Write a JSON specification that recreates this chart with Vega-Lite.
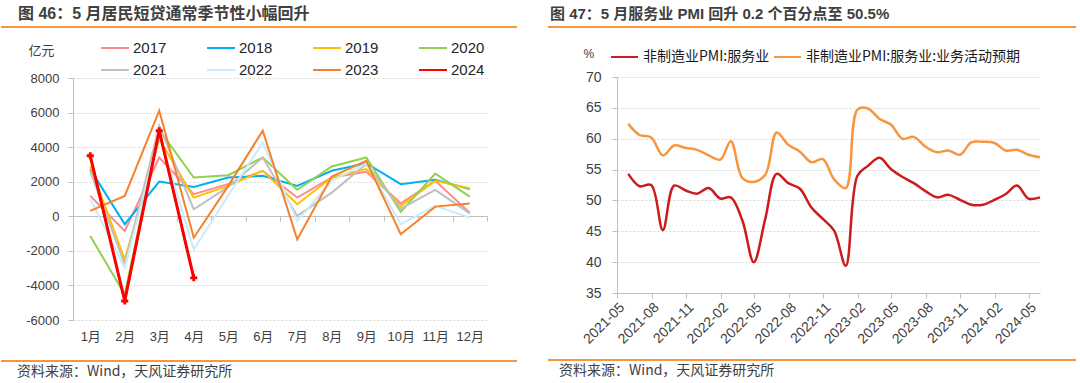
{
  "$schema": "https://vega.github.io/schema/vega-lite/v6.json",
  "padding": {"left": 0, "top": 6, "right": 0, "bottom": 0},
  "background": "white",
  "config": {
    "view": {"stroke": null},
    "font": "Noto Sans CJK SC"
  },
  "spacing": 29,
  "resolve": {"scale": {"x": "independent", "y": "independent", "color": "independent"}, "axis": {"x": "independent", "y": "independent"}, "legend": {"color": "independent"}},
  "hconcat": [
    {
      "spacing": 10,
      "resolve": {"scale": {"x": "independent", "y": "independent", "color": "independent"}, "axis": {"x": "independent", "y": "independent"}, "legend": {"color": "independent"}},
      "vconcat": [
        {
          "width": 516, "height": 2,
          "data": {"values": [{"s": 0, "e": 1}]},
          "title": {"text": "图 46：5 月居民短贷通常季节性小幅回升", "anchor": "start", "fontSize": 16, "fontWeight": "bold", "color": "#404040", "offset": 4, "dx": 18, "font": "Liberation Sans, Noto Sans CJK SC"},
          "mark": {"type": "rule", "color": "#F7963C", "strokeWidth": 2},
          "encoding": {
            "x": {"field": "s", "type": "quantitative", "scale": {"domain": [0, 1]}, "axis": null},
            "x2": {"field": "e"}
          }
        },
        {
          "spacing": 17,
          "resolve": {"scale": {"x": "independent", "y": "independent", "color": "independent"}, "axis": {"x": "independent", "y": "independent"}, "legend": {"color": "independent"}},
          "vconcat": [
            {
              "spacing": 23,
              "resolve": {"scale": {"x": "independent", "y": "independent", "color": "independent"}, "axis": {"x": "independent", "y": "independent"}, "legend": {"color": "independent"}},
              "hconcat": [
                {"width": 1, "height": 1, "data": {"values": [{}]}, "mark": "rule", "encoding": {}},
                {
                  "width": 414, "height": 242,
                  "data": {"values": [
                    {"m":"1月","y":"2017","v":1180},{"m":"2月","y":"2017","v":-850},{"m":"3月","y":"2017","v":3400},{"m":"4月","y":"2017","v":1280},{"m":"5月","y":"2017","v":1860},{"m":"6月","y":"2017","v":2630},{"m":"7月","y":"2017","v":1080},{"m":"8月","y":"2017","v":2240},{"m":"9月","y":"2017","v":2570},{"m":"10月","y":"2017","v":750},{"m":"11月","y":"2017","v":2050},{"m":"12月","y":"2017","v":210},
                    {"m":"1月","y":"2018","v":2730},{"m":"2月","y":"2018","v":-460},{"m":"3月","y":"2018","v":2010},{"m":"4月","y":"2018","v":1700},{"m":"5月","y":"2018","v":2240},{"m":"6月","y":"2018","v":2340},{"m":"7月","y":"2018","v":1760},{"m":"8月","y":"2018","v":2630},{"m":"9月","y":"2018","v":3070},{"m":"10月","y":"2018","v":1860},{"m":"11月","y":"2018","v":2110},{"m":"12月","y":"2018","v":1570},
                    {"m":"1月","y":"2019","v":2900},{"m":"2月","y":"2019","v":-2500},{"m":"3月","y":"2019","v":4470},{"m":"4月","y":"2019","v":1080},{"m":"5月","y":"2019","v":1760},{"m":"6月","y":"2019","v":2630},{"m":"7月","y":"2019","v":700},{"m":"8月","y":"2019","v":2240},{"m":"9月","y":"2019","v":2730},{"m":"10月","y":"2019","v":600},{"m":"11月","y":"2019","v":2050},{"m":"12月","y":"2019","v":1620},
                    {"m":"1月","y":"2020","v":-1140},{"m":"2月","y":"2020","v":-4520},{"m":"3月","y":"2020","v":5000},{"m":"4月","y":"2020","v":2240},{"m":"5月","y":"2020","v":2380},{"m":"6月","y":"2020","v":3400},{"m":"7月","y":"2020","v":1530},{"m":"8月","y":"2020","v":2880},{"m":"9月","y":"2020","v":3400},{"m":"10月","y":"2020","v":250},{"m":"11月","y":"2020","v":2470},{"m":"12月","y":"2020","v":1140},
                    {"m":"1月","y":"2021","v":2600},{"m":"2月","y":"2021","v":-2780},{"m":"3月","y":"2021","v":5240},{"m":"4月","y":"2021","v":400},{"m":"5月","y":"2021","v":1700},{"m":"6月","y":"2021","v":3400},{"m":"7月","y":"2021","v":20},{"m":"8月","y":"2021","v":1370},{"m":"9月","y":"2021","v":3020},{"m":"10月","y":"2021","v":440},{"m":"11月","y":"2021","v":1530},{"m":"12月","y":"2021","v":170},
                    {"m":"1月","y":"2022","v":990},{"m":"2月","y":"2022","v":-2980},{"m":"3月","y":"2022","v":4700},{"m":"4月","y":"2022","v":-1910},{"m":"5月","y":"2022","v":1200},{"m":"6月","y":"2022","v":4270},{"m":"7月","y":"2022","v":-270},{"m":"8月","y":"2022","v":2050},{"m":"9月","y":"2022","v":3070},{"m":"10月","y":"2022","v":-460},{"m":"11月","y":"2022","v":600},{"m":"12月","y":"2022","v":-80},
                    {"m":"1月","y":"2023","v":310},{"m":"2月","y":"2023","v":1180},{"m":"3月","y":"2023","v":6110},{"m":"4月","y":"2023","v":-1240},{"m":"5月","y":"2023","v":1760},{"m":"6月","y":"2023","v":4950},{"m":"7月","y":"2023","v":-1340},{"m":"8月","y":"2023","v":2300},{"m":"9月","y":"2023","v":3210},{"m":"10月","y":"2023","v":-1040},{"m":"11月","y":"2023","v":560},{"m":"12月","y":"2023","v":735},
                    {"m":"1月","y":"2024","v":3500},{"m":"2月","y":"2024","v":-4900},{"m":"3月","y":"2024","v":4950},{"m":"4月","y":"2024","v":-3560}
                  ]},
                  "encoding": {
                    "x": {"field": "m", "type": "ordinal",
                      "sort": ["1月","2月","3月","4月","5月","6月","7月","8月","9月","10月","11月","12月"],
                      "scale": {"domain": ["1月","2月","3月","4月","5月","6月","7月","8月","9月","10月","11月","12月"], "paddingInner": 0, "paddingOuter": 0},
                      "axis": {"title": null, "labelAngle": 0, "offset": -104, "tickBand": "extent", "domainColor": "#BFBFBF", "tickColor": "#BFBFBF", "tickSize": 5, "labelPadding": 109, "labelFontSize": 13, "labelColor": "#404040", "labelFont": "Liberation Sans, Noto Sans CJK SC", "grid": false}},
                    "y": {"field": "v", "type": "quantitative",
                      "scale": {"domain": [-6000, 8000], "nice": false},
                      "axis": {"title": "亿元", "titleAngle": 0, "titleX": -45, "titleY": -28, "titleAlign": "left", "titleBaseline": "middle", "titleFontSize": 13, "titleFontWeight": "normal", "titleColor": "#404040", "titleFont": "Noto Sans CJK SC",
                        "values": [-6000, -4000, -2000, 0, 2000, 4000, 6000, 8000], "labelExpr": "toString(datum.value)",
                        "labelFontSize": 13, "labelColor": "#404040", "labelFont": "Liberation Sans", "labelPadding": 9, "tickSize": 5, "tickColor": "#BFBFBF", "domainColor": "#BFBFBF",
                        "grid": true, "gridDash": [2, 2], "gridColor": "#D9D9D9"}}
                  },
                  "layer": [
                    {
                      "mark": {"type": "line", "strokeWidth": 2},
                      "encoding": {
                        "color": {"field": "y", "type": "nominal",
                          "scale": {"domain": ["2017","2018","2019","2020","2021","2022","2023","2024"], "range": ["#FF8C8C","#00B0F0","#FFC000","#92D050","#BFBFBF","#C9EBFA","#F5822A","#FF0000"]},
                          "legend": {"orient": "none", "legendX": 27, "legendY": -40, "columns": 4, "direction": "horizontal", "title": null, "symbolType": "stroke", "symbolSize": 784, "symbolStrokeWidth": 2, "labelFontSize": 15, "labelColor": "#262626", "labelFont": "Liberation Sans", "labelOffset": 3, "columnPadding": 39, "rowPadding": 2, "clipHeight": 20}}
                      }
                    },
                    {
                      "transform": [{"filter": "datum.y == '2024'"}],
                      "mark": {"type": "line", "strokeWidth": 3, "color": "#FF0000"},
                      "encoding": {}
                    },
                    {
                      "transform": [{"filter": "datum.y == '2024'"}],
                      "mark": {"type": "point", "shape": "cross", "filled": true, "size": 50, "color": "#FF0000", "opacity": 1},
                      "encoding": {}
                    }
                  ]
                }
              ]
            },
            {
              "width": 516, "height": 2,
              "data": {"values": [{"s": 0, "e": 1}]},
              "title": {"text": "资料来源：Wind，天风证券研究所", "orient": "bottom", "anchor": "start", "fontSize": 14, "fontWeight": "normal", "color": "#404040", "offset": 3, "dx": 17, "font": "Noto Sans CJK SC"},
              "mark": {"type": "rule", "color": "#F7963C", "strokeWidth": 2},
              "encoding": {
                "x": {"field": "s", "type": "quantitative", "scale": {"domain": [0, 1]}, "axis": null},
                "x2": {"field": "e"}
              }
            }
          ]
        }
      ]
    },
    {
      "spacing": 19,
      "resolve": {"scale": {"x": "independent", "y": "independent", "color": "independent"}, "axis": {"x": "independent", "y": "independent"}, "legend": {"color": "independent"}},
      "vconcat": [
        {
          "width": 528, "height": 2,
          "data": {"values": [{"s": 0, "e": 1}]},
          "title": {"text": "图 47：5 月服务业 PMI 回升 0.2 个百分点至 50.5%", "anchor": "start", "fontSize": 15, "fontWeight": "bold", "color": "#404040", "offset": 4, "dx": 3, "font": "Liberation Sans, Noto Sans CJK SC"},
          "mark": {"type": "rule", "color": "#F7963C", "strokeWidth": 2},
          "encoding": {
            "x": {"field": "s", "type": "quantitative", "scale": {"domain": [0, 1]}, "axis": null},
            "x2": {"field": "e"}
          }
        },
        {
          "spacing": 12,
          "resolve": {"scale": {"x": "independent", "y": "independent", "color": "independent"}, "axis": {"x": "independent", "y": "independent"}, "legend": {"color": "independent"}},
          "vconcat": [
            {
              "spacing": 31,
              "resolve": {"scale": {"x": "independent", "y": "independent", "color": "independent"}, "axis": {"x": "independent", "y": "independent"}, "legend": {"color": "independent"}},
              "hconcat": [
                {"width": 1, "height": 1, "data": {"values": [{}]}, "mark": "rule", "encoding": {}},
                {
                  "width": 423, "height": 216,
                  "data": {"values": [
                    {"d":"2021-05-31","s":"非制造业PMI:服务业","v":54.3},{"d":"2021-06-30","s":"非制造业PMI:服务业","v":52.3},{"d":"2021-07-31","s":"非制造业PMI:服务业","v":52.5},{"d":"2021-08-31","s":"非制造业PMI:服务业","v":45.2},{"d":"2021-09-30","s":"非制造业PMI:服务业","v":52.4},{"d":"2021-10-31","s":"非制造业PMI:服务业","v":51.6},{"d":"2021-11-30","s":"非制造业PMI:服务业","v":51.1},{"d":"2021-12-31","s":"非制造业PMI:服务业","v":52.0},{"d":"2022-01-31","s":"非制造业PMI:服务业","v":50.3},{"d":"2022-02-28","s":"非制造业PMI:服务业","v":50.5},{"d":"2022-03-31","s":"非制造业PMI:服务业","v":46.7},{"d":"2022-04-30","s":"非制造业PMI:服务业","v":40.0},{"d":"2022-05-31","s":"非制造业PMI:服务业","v":47.1},{"d":"2022-06-30","s":"非制造业PMI:服务业","v":54.3},{"d":"2022-07-31","s":"非制造业PMI:服务业","v":52.8},{"d":"2022-08-31","s":"非制造业PMI:服务业","v":51.9},{"d":"2022-09-30","s":"非制造业PMI:服务业","v":48.9},{"d":"2022-10-31","s":"非制造业PMI:服务业","v":47.0},{"d":"2022-11-30","s":"非制造业PMI:服务业","v":45.1},{"d":"2022-12-31","s":"非制造业PMI:服务业","v":39.4},{"d":"2023-01-31","s":"非制造业PMI:服务业","v":54.0},{"d":"2023-02-28","s":"非制造业PMI:服务业","v":55.6},{"d":"2023-03-31","s":"非制造业PMI:服务业","v":56.9},{"d":"2023-04-30","s":"非制造业PMI:服务业","v":55.1},{"d":"2023-05-31","s":"非制造业PMI:服务业","v":53.8},{"d":"2023-06-30","s":"非制造业PMI:服务业","v":52.8},{"d":"2023-07-31","s":"非制造业PMI:服务业","v":51.5},{"d":"2023-08-31","s":"非制造业PMI:服务业","v":50.5},{"d":"2023-09-30","s":"非制造业PMI:服务业","v":50.9},{"d":"2023-10-31","s":"非制造业PMI:服务业","v":50.1},{"d":"2023-11-30","s":"非制造业PMI:服务业","v":49.3},{"d":"2023-12-31","s":"非制造业PMI:服务业","v":49.3},{"d":"2024-01-31","s":"非制造业PMI:服务业","v":50.1},{"d":"2024-02-29","s":"非制造业PMI:服务业","v":51.0},{"d":"2024-03-31","s":"非制造业PMI:服务业","v":52.4},{"d":"2024-04-30","s":"非制造业PMI:服务业","v":50.3},{"d":"2024-05-31","s":"非制造业PMI:服务业","v":50.5},
                    {"d":"2021-05-31","s":"非制造业PMI:服务业:业务活动预期","v":62.4},{"d":"2021-06-30","s":"非制造业PMI:服务业:业务活动预期","v":60.6},{"d":"2021-07-31","s":"非制造业PMI:服务业:业务活动预期","v":60.2},{"d":"2021-08-31","s":"非制造业PMI:服务业:业务活动预期","v":57.3},{"d":"2021-09-30","s":"非制造业PMI:服务业:业务活动预期","v":58.9},{"d":"2021-10-31","s":"非制造业PMI:服务业:业务活动预期","v":58.5},{"d":"2021-11-30","s":"非制造业PMI:服务业:业务活动预期","v":58.2},{"d":"2021-12-31","s":"非制造业PMI:服务业:业务活动预期","v":57.3},{"d":"2022-01-31","s":"非制造业PMI:服务业:业务活动预期","v":56.6},{"d":"2022-02-28","s":"非制造业PMI:服务业:业务活动预期","v":59.6},{"d":"2022-03-31","s":"非制造业PMI:服务业:业务活动预期","v":53.6},{"d":"2022-04-30","s":"非制造业PMI:服务业:业务活动预期","v":53.0},{"d":"2022-05-31","s":"非制造业PMI:服务业:业务活动预期","v":54.2},{"d":"2022-06-30","s":"非制造业PMI:服务业:业务活动预期","v":61.0},{"d":"2022-07-31","s":"非制造业PMI:服务业:业务活动预期","v":59.0},{"d":"2022-08-31","s":"非制造业PMI:服务业:业务活动预期","v":57.9},{"d":"2022-09-30","s":"非制造业PMI:服务业:业务活动预期","v":56.2},{"d":"2022-10-31","s":"非制造业PMI:服务业:业务活动预期","v":56.7},{"d":"2022-11-30","s":"非制造业PMI:服务业:业务活动预期","v":53.4},{"d":"2022-12-31","s":"非制造业PMI:服务业:业务活动预期","v":52.0},{"d":"2023-01-31","s":"非制造业PMI:服务业:业务活动预期","v":64.7},{"d":"2023-02-28","s":"非制造业PMI:服务业:业务活动预期","v":64.9},{"d":"2023-03-31","s":"非制造业PMI:服务业:业务活动预期","v":63.2},{"d":"2023-04-30","s":"非制造业PMI:服务业:业务活动预期","v":62.3},{"d":"2023-05-31","s":"非制造业PMI:服务业:业务活动预期","v":60.0},{"d":"2023-06-30","s":"非制造业PMI:服务业:业务活动预期","v":60.3},{"d":"2023-07-31","s":"非制造业PMI:服务业:业务活动预期","v":58.7},{"d":"2023-08-31","s":"非制造业PMI:服务业:业务活动预期","v":57.8},{"d":"2023-09-30","s":"非制造业PMI:服务业:业务活动预期","v":58.1},{"d":"2023-10-31","s":"非制造业PMI:服务业:业务活动预期","v":57.4},{"d":"2023-11-30","s":"非制造业PMI:服务业:业务活动预期","v":59.4},{"d":"2023-12-31","s":"非制造业PMI:服务业:业务活动预期","v":59.5},{"d":"2024-01-31","s":"非制造业PMI:服务业:业务活动预期","v":59.3},{"d":"2024-02-29","s":"非制造业PMI:服务业:业务活动预期","v":58.1},{"d":"2024-03-31","s":"非制造业PMI:服务业:业务活动预期","v":58.2},{"d":"2024-04-30","s":"非制造业PMI:服务业:业务活动预期","v":57.4},{"d":"2024-05-31","s":"非制造业PMI:服务业:业务活动预期","v":57.0}
                  ]},
                  "mark": {"type": "line", "interpolate": "catmull-rom", "strokeWidth": 2.5},
                  "encoding": {
                    "x": {"field": "d", "type": "temporal",
                      "scale": {"type": "utc", "nice": false, "domain": [1619827200000, 1717113600000]},
                      "axis": {"title": null,
                        "values": [1619827200000, 1627776000000, 1635724800000, 1643673600000, 1651363200000, 1659312000000, 1667260800000, 1675209600000, 1682899200000, 1690848000000, 1698796800000, 1706745600000, 1714521600000],
                        "labelExpr": "utcFormat(datum.value, '%Y-%m')", "labelOverlap": false,
                        "labelAngle": -45, "labelFontSize": 14, "labelColor": "#404040", "labelFont": "Liberation Sans", "tickColor": "#BFBFBF", "domainColor": "#BFBFBF", "tickSize": 5, "labelPadding": 2, "grid": false}},
                    "y": {"field": "v", "type": "quantitative",
                      "scale": {"domain": [35, 70], "nice": false, "zero": false},
                      "axis": {"title": "%", "titleAngle": 0, "titleX": -34, "titleY": -24, "titleAlign": "left", "titleBaseline": "middle", "titleFontSize": 12, "titleFontWeight": "normal", "titleColor": "#404040", "titleFont": "Liberation Sans",
                        "values": [35, 40, 45, 50, 55, 60, 65, 70], "labelFontSize": 14, "labelColor": "#404040", "labelFont": "Liberation Sans", "labelPadding": 11, "tickSize": 5, "tickColor": "#BFBFBF", "domainColor": "#BFBFBF",
                        "grid": true, "gridDash": [2, 2], "gridColor": "#D9D9D9"}},
                    "color": {"field": "s", "type": "nominal",
                      "scale": {"domain": ["非制造业PMI:服务业", "非制造业PMI:服务业:业务活动预期"], "range": ["#CB1B1B", "#F7963C"]},
                      "legend": {"orient": "none", "legendX": -7, "legendY": -28, "direction": "horizontal", "title": null, "symbolType": "stroke", "symbolSize": 729, "symbolStrokeWidth": 2, "labelFontSize": 14, "labelColor": "#1A1A1A", "labelFont": "Noto Sans CJK SC", "labelOffset": 4, "columnPadding": 3, "clipHeight": 16, "labelLimit": 400}}
                  }
                }
              ]
            },
            {
              "width": 528, "height": 2,
              "data": {"values": [{"s": 0, "e": 1}]},
              "title": {"text": "资料来源：Wind，天风证券研究所", "orient": "bottom", "anchor": "start", "fontSize": 14, "fontWeight": "normal", "color": "#404040", "offset": 3, "dx": 12, "font": "Noto Sans CJK SC"},
              "mark": {"type": "rule", "color": "#F7963C", "strokeWidth": 2},
              "encoding": {
                "x": {"field": "s", "type": "quantitative", "scale": {"domain": [0, 1]}, "axis": null},
                "x2": {"field": "e"}
              }
            }
          ]
        }
      ]
    }
  ]
}
